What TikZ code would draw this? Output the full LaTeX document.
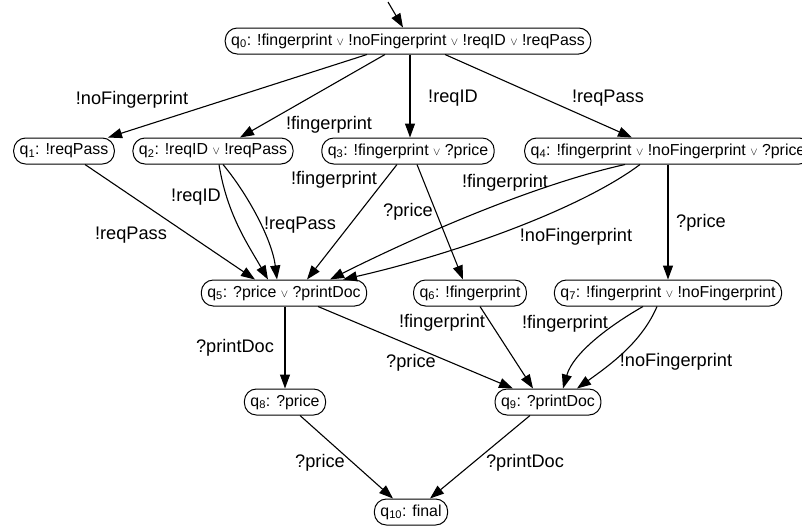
\documentclass[tikz,border=0pt]{standalone}
\usepackage{fontspec}
\setmainfont{Liberation Sans}
\usetikzlibrary{arrows.meta}
\newcommand{\vv}{\ {\fontsize{10.5}{10}\selectfont$\vee$}\ }
\newcommand{\qs}[1]{q\textsubscript{#1}}

\begin{document}
\begin{tikzpicture}[x=1pt, y=-1pt,
  st/.style={draw, rectangle, rounded corners=12pt, line width=1pt, inner xsep=6pt, inner ysep=3pt, minimum height=26pt, font=\fontsize{15.9}{18}\selectfont},
  lbl/.style={font=\fontsize{18.2}{20}\selectfont, inner sep=0pt},
  tr/.style={-{Triangle[length=14pt,width=10pt]}, line width=1.1pt}]
\useasboundingbox (0,0) rectangle (802,531);
\node[st] (q0) at (408,41) {\qs0: !fingerprint\vv!noFingerprint\vv!reqID\vv!reqPass};
\node[st] (q1) at (64,151) {\qs1: !reqPass};
\node[st] (q2) at (213,151) {\qs2: !reqID\vv!reqPass};
\node[st] (q3) at (408,151) {\qs3: !fingerprint\vv?price};
\node[st] (q4) at (668,151) {\qs4: !fingerprint\vv!noFingerprint\vv?price};
\node[st] (q5) at (284,293) {\qs5: ?price\vv?printDoc};
\node[st] (q6) at (470,293) {\qs6: !fingerprint};
\node[st] (q7) at (668,293) {\qs7: !fingerprint\vv!noFingerprint};
\node[st] (q8) at (285,402) {\qs8: ?price};
\node[st] (q9) at (548,402) {\qs9: ?printDoc};
\node[st] (q10) at (411,512) {\qs{10}: final};
\coordinate (s) at (388,2);
\draw[tr] (s) -- ([xshift=-5]q0.north);
\draw[tr] ([xshift=-41]q0.south) -- ([xshift=44]q1.north) node[lbl] (l1) at (132,100) {!noFingerprint};
\draw[tr] ([xshift=-23]q0.south) -- ([xshift=27]q2.north) node[lbl] (l2) at (329,125) {!fingerprint};
\draw[tr] ([xshift=2]q0.south) -- ([xshift=2]q3.north) node[lbl] (l3) at (453,98) {!reqID};
\draw[tr] ([xshift=37]q0.south) -- ([xshift=-36]q4.north) node[lbl] (l4) at (608,98) {!reqPass};
\draw[tr] ([xshift=21]q1.south) -- ([xshift=-29]q5.north) node[lbl] (l5) at (131,235) {!reqPass};
\draw[tr] ([xshift=6]q2.south) .. controls +(8,50) and +(-20,-35) .. ([xshift=-16]q5.north) node[lbl] (l6) at (196,197) {!reqID};
\draw[tr] ([xshift=10]q2.south) .. controls +(25,30) and +(-5,-40) .. ([xshift=-7]q5.north) node[lbl] (l7) at (300,225) {!reqPass};
\draw[tr] ([xshift=-11]q3.south) -- ([xshift=23]q5.north) node[lbl] (l8) at (334,180) {!fingerprint};
\draw[tr] ([xshift=9]q3.south) -- ([xshift=-7]q6.north) node[lbl] (l9) at (408,212) {?price};
\draw[tr] ([xshift=-43]q4.south) .. controls +(-90,20) and +(90,-45) .. ([xshift=46]q5.north) node[lbl] (l10) at (505,183) {!fingerprint};
\draw[tr] ([xshift=-28]q4.south) .. controls +(-60,45) and +(110,-25) .. ([xshift=59]q5.north) node[lbl] (l11) at (576,237) {!noFingerprint};
\draw[tr] (q4.south) -- (q7.north) node[lbl] (l12) at (701,223) {?price};
\draw[tr] ([xshift=1]q5.south) -- (q8.north) node[lbl] (l13) at (235,348) {?printDoc};
\draw[tr] ([xshift=34]q5.south) -- ([xshift=-35]q9.north) node[lbl] (l14) at (411,363) {?price};
\draw[tr] ([xshift=10]q6.south) -- ([xshift=-15]q9.north) node[lbl] (l15) at (442,323) {!fingerprint};
\draw[tr] ([xshift=-25]q7.south) .. controls +(-35,20) and +(10,-35) .. ([xshift=15]q9.north) node[lbl] (l16) at (565,324) {!fingerprint};
\draw[tr] ([xshift=-11]q7.south) .. controls +(-15,35) and +(35,-25) .. ([xshift=29]q9.north) node[lbl] (l17) at (676,362) {!noFingerprint};
\draw[tr] ([xshift=15]q8.south) -- ([xshift=-18]q10.north) node[lbl] (l18) at (320,463) {?price};
\draw[tr] ([xshift=-18]q9.south) -- ([xshift=19]q10.north) node[lbl] (l19) at (525,463) {?printDoc};
\end{tikzpicture}
\end{document}
